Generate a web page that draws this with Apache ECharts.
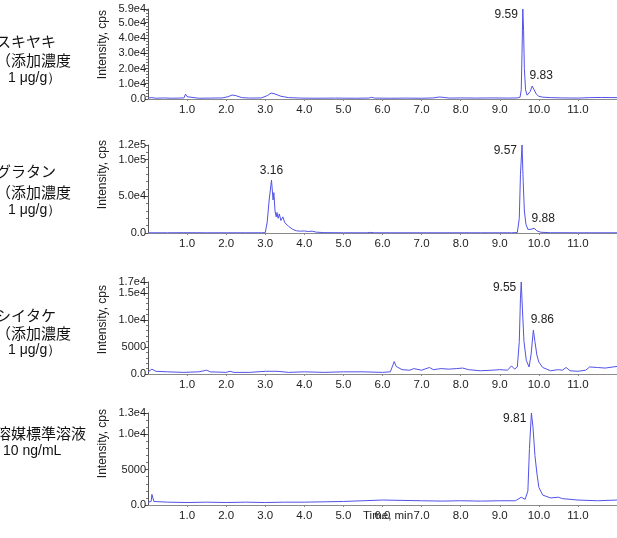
<!DOCTYPE html>
<html>
<head>
<meta charset="utf-8">
<script src="https://cdn.jsdelivr.net/npm/echarts@6/dist/echarts.min.js"></script>
<style>
  html, body { margin: 0; padding: 0; background: #fff; }
  #chart { width: 617px; height: 538px; }
</style>
</head>
<body>
<div id="chart"></div>
<script>
// sample names (left side)
const sampleNames = [
  ['スキヤキ', '（添加濃度', '1 μg/g）'],
  ['グラタン', '（添加濃度', '1 μg/g）'],
  ['シイタケ', '（添加濃度', '1 μg/g）'],
  ['溶媒標準溶液', '10 ng/mL']
];

// y axis top value per panel
const yMax = [59000, 120000, 17000, 13000];
const yStep = [10000, 50000, 5000, 5000];
const xTicks = [1, 2, 3, 4, 5, 6, 7, 8, 9, 10, 11];

// chromatograms: [time (min), intensity (cps)]
const sukiyaki = [
  [0.0, 600], [0.1, 900], [0.2, 500], [0.4, 700], [0.6, 500], [0.8, 600], [0.92, 700],
  [0.96, 3200], [1.0, 1500], [1.05, 600], [1.3, 500], [1.6, 600], [1.9, 700], [2.05, 1500],
  [2.15, 2600], [2.25, 2200], [2.4, 900], [2.6, 600], [2.9, 700], [3.05, 2200], [3.15, 3900],
  [3.25, 3300], [3.4, 1800], [3.6, 900], [3.9, 600], [4.3, 500], [4.8, 600], [5.3, 500],
  [5.65, 600], [5.72, 1100], [5.8, 600], [6.2, 500], [6.6, 600], [7.0, 500], [7.3, 700],
  [7.45, 1300], [7.55, 1100], [7.7, 600], [8.0, 700], [8.4, 600], [8.8, 700], [9.2, 600],
  [9.45, 700], [9.52, 1200], [9.55, 6000], [9.57, 30000], [9.59, 59000], [9.61, 45000],
  [9.63, 20000], [9.66, 6000], [9.7, 2500], [9.74, 2200], [9.78, 5000], [9.83, 8500],
  [9.88, 6000], [9.94, 3000], [10.0, 1800], [10.1, 1200], [10.3, 900], [10.6, 700],
  [11.0, 600], [11.3, 900], [11.6, 1000], [12.0, 900]
];
const gratin = [
  [0.0, 300], [0.5, 300], [0.9, 400], [0.95, 1500], [1.0, 400], [1.5, 300], [2.0, 300],
  [2.5, 300], [2.9, 300], [3.0, 500], [3.05, 15000], [3.1, 45000], [3.16, 72000],
  [3.2, 45000], [3.22, 55000], [3.25, 30000], [3.28, 22000], [3.3, 28000], [3.33, 20000],
  [3.36, 26000], [3.4, 17000], [3.45, 22000], [3.5, 14000], [3.55, 12000], [3.6, 9000],
  [3.7, 5000], [3.8, 3000], [3.9, 2500], [4.0, 2800], [4.1, 2000], [4.2, 2500], [4.3, 1200],
  [4.5, 500], [5.0, 300], [5.6, 300], [5.7, 800], [5.8, 300], [6.5, 300], [7.5, 300],
  [8.5, 300], [9.3, 300], [9.45, 600], [9.5, 20000], [9.53, 80000], [9.57, 120000],
  [9.6, 70000], [9.63, 30000], [9.67, 12000], [9.72, 5000], [9.8, 5000], [9.88, 6500],
  [9.95, 3000], [10.05, 1000], [10.3, 400], [11.0, 300], [12.0, 300]
];
const shiitake = [
  [0.0, 400], [0.1, 900], [0.2, 500], [0.5, 400], [0.9, 300], [1.3, 400], [1.5, 700],
  [1.6, 400], [2.0, 300], [2.1, 500], [2.2, 300], [2.6, 300], [3.0, 500], [3.3, 500],
  [3.6, 300], [4.0, 400], [4.5, 300], [5.0, 400], [5.5, 400], [6.0, 300], [6.2, 400],
  [6.3, 2300], [6.35, 1400], [6.5, 800], [6.7, 700], [6.8, 1000], [7.0, 700], [7.2, 1200],
  [7.3, 800], [7.5, 1000], [7.7, 900], [7.9, 1000], [8.05, 1100], [8.2, 800], [8.5, 600],
  [8.8, 700], [9.0, 800], [9.2, 700], [9.3, 1500], [9.38, 900], [9.45, 1300], [9.5, 6000],
  [9.53, 14000], [9.55, 17000], [9.58, 12000], [9.62, 6000], [9.68, 2500], [9.75, 1300],
  [9.8, 3500], [9.86, 8100], [9.9, 6000], [9.95, 3500], [10.0, 2200], [10.1, 1200],
  [10.3, 600], [10.5, 800], [10.6, 700], [10.7, 1200], [10.8, 600], [11.0, 500], [11.2, 700],
  [11.3, 1300], [11.5, 1200], [11.7, 1100], [11.9, 1300], [12.0, 1400]
];
const standard = [
  [0.0, 400], [0.08, 500], [0.1, 1500], [0.15, 500], [0.5, 400], [1.0, 350], [1.5, 400],
  [2.0, 350], [2.5, 400], [3.0, 350], [3.5, 400], [4.0, 400], [4.5, 450], [5.0, 500],
  [5.5, 600], [6.0, 700], [6.5, 650], [7.0, 600], [7.5, 550], [8.0, 600], [8.5, 550],
  [9.0, 600], [9.4, 600], [9.55, 1100], [9.65, 800], [9.72, 2000], [9.76, 8000],
  [9.81, 13000], [9.85, 11000], [9.9, 7000], [9.95, 4500], [10.0, 2500], [10.1, 1400],
  [10.3, 1000], [10.5, 1100], [10.6, 900], [11.0, 700], [11.5, 600], [12.0, 700]
];
const traces = [sukiyaki, gratin, shiitake, standard];

// labelled peaks: [time, intensity]
const peaks = [
  [[9.59, 59000], [9.83, 8500]],
  [[3.16, 72000], [9.57, 120000], [9.88, 6500]],
  [[9.55, 17000], [9.86, 8100]],
  [[9.81, 13000]]
];

const lineColor = '#5252e8';
const latin = 'Liberation Sans, Arial, sans-serif';
const jp = 'Noto Sans CJK JP, sans-serif';

const gridTops = [9, 145, 282, 413];
const gridHeights = [90, 88, 92, 92];
const titleTops = [10, 140, 285, 409];

function yFmt(v) {
  if (v === 0) return '0.0';
  if (v < 10000) return String(v);
  return v.toExponential(1).replace('e+', 'e');
}

const grids = [], xAxes = [], yAxes = [], series = [], graphics = [];

traces.forEach((data, i) => {
  grids.push({
    left: 148, right: 0, top: gridTops[i], height: gridHeights[i],
    outerBoundsMode: 'none'
  });
  xAxes.push({
    type: 'value', gridIndex: i, min: 0, max: 12, interval: 1,
    axisLine: { onZero: false, lineStyle: { color: '#8a8a8a', width: 1 } },
    axisTick: { show: true, length: 2, lineStyle: { color: '#8a8a8a' } },
    splitLine: { show: false },
    axisLabel: {
      showMinLabel: false, showMaxLabel: false, margin: 5,
      color: '#222', fontFamily: latin, fontSize: 11.5,
      formatter: v => xTicks.includes(v) ? v.toFixed(1) : ''
    }
  });
  yAxes.push({
    type: 'value', gridIndex: i, min: 0, max: yMax[i], interval: yStep[i],
    axisLine: { show: true, lineStyle: { color: '#555', width: 1 } },
    axisTick: { show: true, length: 3, lineStyle: { color: '#555' } },
    minorTick: { show: true, splitNumber: 5, length: 2, lineStyle: { color: '#777' } },
    splitLine: { show: false },
    axisLabel: {
      margin: 2, color: '#222', fontFamily: latin, fontSize: 11, formatter: yFmt,
      hideOverlap: false
    }
  });

  const top = yMax[i];
  series.push({
    type: 'line', xAxisIndex: i, yAxisIndex: i, data: data,
    showSymbol: false, animation: false,
    lineStyle: { color: lineColor, width: 1 },
    markPoint: {
      symbol: 'circle', symbolSize: 0, animation: false,
      data: peaks[i].map(p => {
        const main = p[1] >= top;
        return {
          coord: p, value: p[0].toFixed(2),
          label: {
            show: true, formatter: p[0].toFixed(2),
            position: main ? 'left' : 'top',
            offset: main ? [-2, 6] : [p[0] > 5 ? 9 : 0, -1],
            distance: 3,
            color: '#222', fontFamily: latin, fontSize: 12
          }
        };
      })
    }
  });

  // y axis title
  graphics.push({
    type: 'text', left: 97, top: titleTops[i],
    rotation: Math.PI / 2,
    style: { text: 'Intensity, cps', fontFamily: latin, fontSize: 12, fill: '#222' }
  });
});

// sample names
const nameTops = [[34, 53, 71], [164, 185, 203], [308, 326, 343], [426, 444]];
sampleNames.forEach((lines, i) => {
  lines.forEach((t, j) => {
    let x = -4;
    if (t.startsWith('1 ')) x = 8;
    if (t.startsWith('10 ')) x = 3;
    const latinLine = /^[0-9]/.test(t);
    graphics.push({
      type: 'text', left: x, top: nameTops[i][j],
      style: {
        text: t, fontSize: latinLine ? 14 : 15, fill: '#111',
        fontFamily: latinLine ? latin : jp
      }
    });
  });
});

graphics.push({
  type: 'text', left: 363, top: 510,
  style: { text: 'Time, min', fontFamily: latin, fontSize: 11.5, fill: '#222' }
});

const chart = echarts.init(document.getElementById('chart'), null, { renderer: 'canvas' });
chart.setOption({
  animation: false,
  grid: grids,
  xAxis: xAxes,
  yAxis: yAxes,
  series: series,
  graphic: graphics
});
</script>
</body>
</html>
